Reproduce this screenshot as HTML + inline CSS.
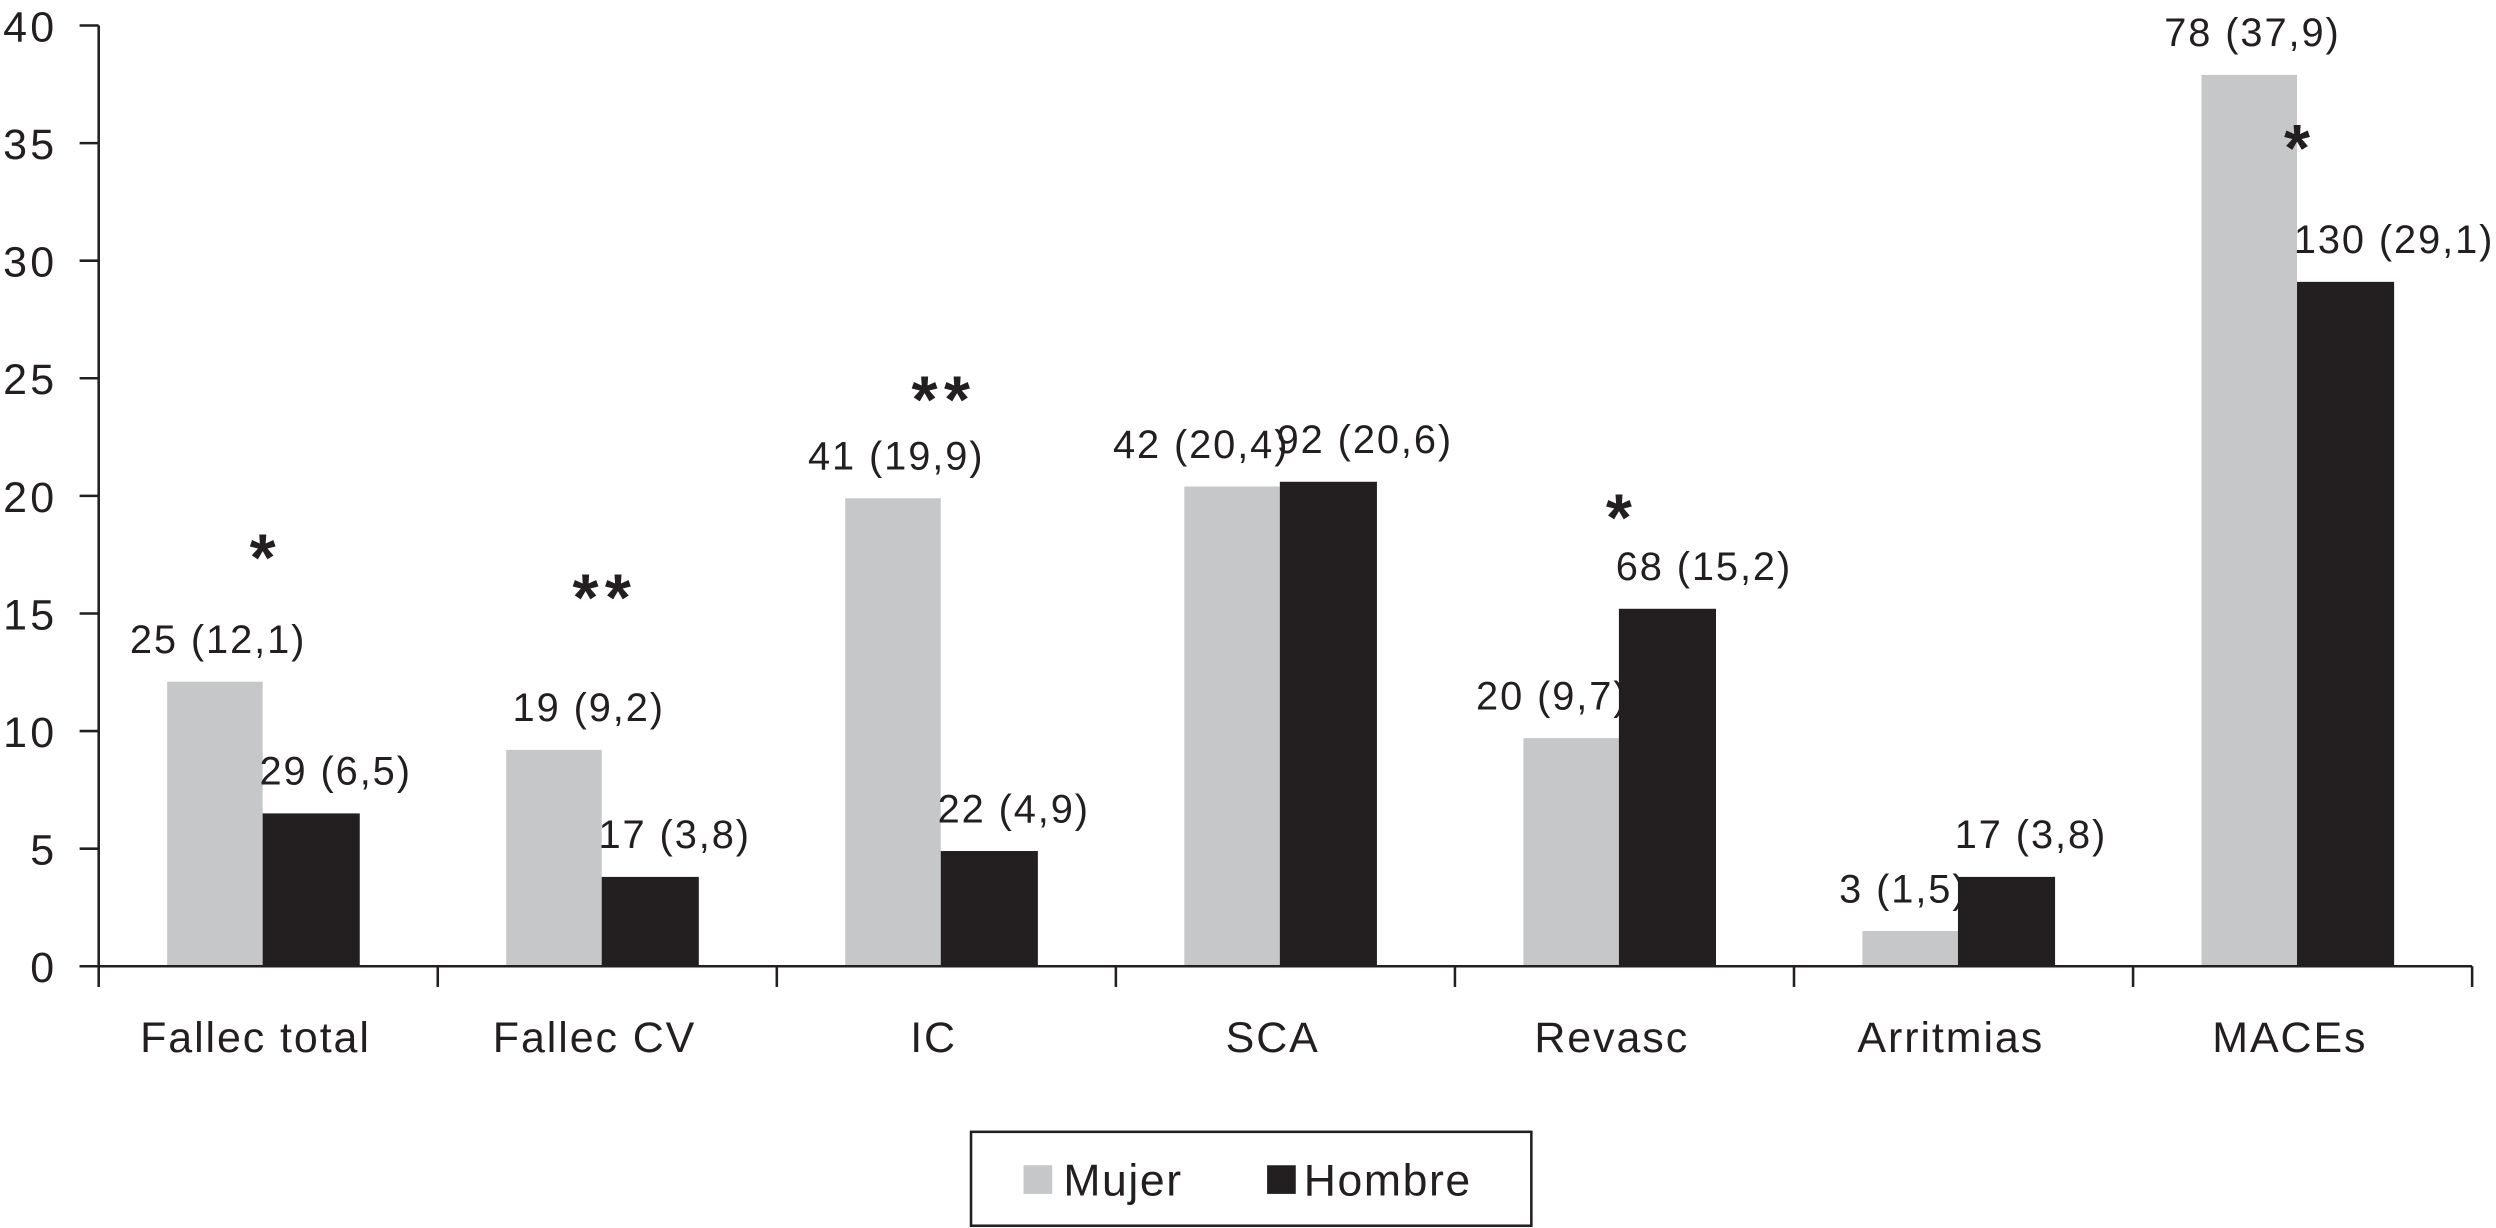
<!DOCTYPE html>
<html><head><meta charset="utf-8"><style>
html,body{margin:0;padding:0;background:#fff;}
svg{display:block;font-family:"Liberation Sans",Arial,sans-serif;}
</style></head><body>
<svg id="chart" width="2496" height="1228" viewBox="0 0 1568 771.4" xmlns="http://www.w3.org/2000/svg"></svg>
<script>
const categories = ["Fallec total","Fallec CV","IC","SCA","Revasc","Arritmias","MACEs"];
const mujerValues = [12.1,9.2,19.9,20.4,9.7,1.5,37.9];
const hombreValues = [6.5,3.8,4.9,20.6,15.2,3.8,29.1];
const mujerLabels = ["25 (12,1)","19 (9,2)","41 (19,9)","42 (20,4)","20 (9,7)","3 (1,5)","78 (37,9)"];
const hombreLabels = ["29 (6,5)","17 (3,8)","22 (4,9)","92 (20,6)","68 (15,2)","17 (3,8)","130 (29,1)"];
const starMarks = ["*","**","**","","*","","*"];
const starLevels = [17.9,16.2,24.6,0,19.6,0,35.3];
const yTicks = [0,5,10,15,20,25,30,35,40];
const mujerAnchor = ["middle","start","middle","end","end","end","middle"];

const svg = document.getElementById('chart');
const NS = 'http://www.w3.org/2000/svg';
const X0 = 62, X1 = 1553, Y0 = 607, YTOP = 16, YMAX = 40;
const catW = (X1 - X0) / categories.length;
const barW = 60;
function y(v){ return Y0 - v / YMAX * (Y0 - YTOP); }
function catX(i){ return X0 + i * catW; }
function mk(tag, attrs, parent){
  const e = document.createElementNS(NS, tag);
  for (const k in attrs) e.setAttribute(k, attrs[k]);
  (parent || svg).appendChild(e);
  return e;
}

categories.forEach((c, i) => {
  const cx = catX(i) + 103;
  const g = mk('rect', {x: cx - barW, y: y(mujerValues[i]), width: barW, height: Y0 - y(mujerValues[i]), fill: '#c6c7c9'});
  
  
  const b = mk('rect', {x: cx, y: y(hombreValues[i]), width: barW + 1, height: Y0 - y(hombreValues[i]), fill: '#231f20'});
  
  
  const a = mujerAnchor[i];
  const mx = a === 'middle' ? cx - barW/2 + 2 : (a === 'start' ? cx - barW + 4 : cx + 6);
  const tm = mk('text', {x: mx, y: y(mujerValues[i]) - 18, 'font-size': 25, 'letter-spacing': 1.2, 'text-anchor': a, fill: '#231f20'});
  tm.textContent = mujerLabels[i];
  
  
  const th = mk('text', {x: cx - 2, y: y(hombreValues[i]) - 18, 'font-size': 25, 'letter-spacing': 1.2, 'text-anchor': 'start', fill: '#231f20'});
  th.textContent = hombreLabels[i];
  
  
  if (starMarks[i]) {
    const s = mk('text', {x: cx + 2, y: y(starLevels[i]) + 22, 'font-size': 42, 'font-weight': 'bold', 'text-anchor': 'middle', fill: '#231f20', 'letter-spacing': 4});
    s.textContent = starMarks[i];
    
    
  }
  const cl = mk('text', {x: catX(i) + catW/2 - 8, y: 661, 'font-size': 27, 'letter-spacing': 1.2, 'text-anchor': 'middle', fill: '#231f20'});
  cl.textContent = c;
  
  
});

const ya = mk('line', {x1: X0, y1: YTOP, x2: X0, y2: 620, stroke: '#231f20', 'stroke-width': 1.6});


const xa = mk('line', {x1: 50, y1: Y0, x2: X1, y2: Y0, stroke: '#231f20', 'stroke-width': 1.6});


yTicks.forEach(t => {
  const l = mk('line', {x1: 50, y1: y(t), x2: X0, y2: y(t), stroke: '#231f20', 'stroke-width': 1.6});
  
  
  const tx = mk('text', {x: 36, y: y(t) + 10, 'font-size': 27, 'letter-spacing': 2, 'text-anchor': 'end', fill: '#231f20'});
  tx.textContent = t;
  
  
});
for (let i = 1; i <= categories.length; i++) {
  const l = mk('line', {x1: catX(i), y1: Y0, x2: catX(i), y2: 620, stroke: '#231f20', 'stroke-width': 1.6});
  
  
}

const lg = mk('g', {});


mk('rect', {x: 610, y: 711, width: 352, height: 59, fill: '#fff', stroke: '#231f20', 'stroke-width': 1.6}, lg);
const s1 = mk('rect', {x: 643, y: 732, width: 18, height: 18, fill: '#c6c7c9'}, lg);


const t1 = mk('text', {x: 668, y: 751, 'font-size': 28, 'letter-spacing': 1, fill: '#231f20'}, lg);
t1.textContent = 'Mujer';


const s2 = mk('rect', {x: 796, y: 732, width: 18, height: 18, fill: '#231f20'}, lg);


const t2 = mk('text', {x: 819, y: 751, 'font-size': 28, 'letter-spacing': 1, fill: '#231f20'}, lg);
t2.textContent = 'Hombre';


</script>
</body></html>
